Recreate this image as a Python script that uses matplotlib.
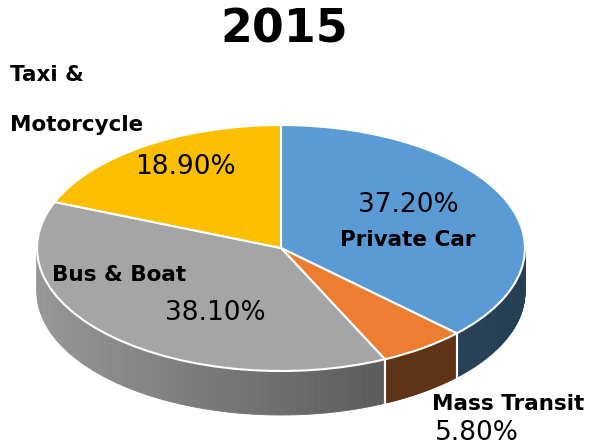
import numpy as np
import matplotlib.pyplot as plt
from matplotlib.patches import Wedge, Polygon
from matplotlib.transforms import Affine2D
from matplotlib.colors import to_rgb

# data
title = "2015"
labels = ["Private Car", "Mass Transit", "Bus & Boat", "Taxi &\n\nMotorcycle"]
shares = [37.2, 5.8, 38.1, 18.9]
top_colors = ["#5B9BD5", "#ED7D31", "#A5A5A5", "#FBBF00"]
side_colors = [("#253F55", "#253F55"), ("#5E3316", "#5E3316"),
               ("#979797", "#444444"), ("#7A5C00", "#7A5C00")]

W, H = 615, 447
cx, cy = 281, H - 248      # pie centre in pixel coords (y up)
a, b, depth = 244, 123, 44

fig = plt.figure(figsize=(6.15, 4.47), dpi=100)
ax = fig.add_axes([0, 0, 1, 1])
ax.set_xlim(0, W)
ax.set_ylim(0, H)
ax.axis("off")

# slice angles, clockwise from the top
frac = np.array(shares) / np.sum(shares)
ends = 90 - 360 * np.cumsum(frac)
starts = np.concatenate([[90], ends[:-1]])

# side walls (front half only: angles between -180 and 0)
for s, e, (c1, c2) in zip(starts, ends, side_colors):
    lo, hi = max(e, -180), min(s, 0)
    if lo >= hi:
        continue
    th = np.radians(np.linspace(lo, hi, 80))
    c1, c2 = np.array(to_rgb(c1)), np.array(to_rgb(c2))
    for i in range(len(th) - 1):
        x0, x1 = cx + a * np.cos(th[i]), cx + a * np.cos(th[i + 1])
        y0, y1 = cy + b * np.sin(th[i]), cy + b * np.sin(th[i + 1])
        t = ((x0 + x1) / 2 - (cx - a)) / (2 * a)
        col = c1 + (c2 - c1) * t
        ax.add_patch(Polygon([(x0, y0), (x1, y1), (x1, y1 - depth), (x0, y0 - depth)],
                             closed=True, fc=col, ec=col, lw=0.6))
    # white divider at the slice edges on the wall
    for ang in (lo, hi):
        if -180 < ang < 0:
            xe = cx + a * np.cos(np.radians(ang))
            ye = cy + b * np.sin(np.radians(ang))
            ax.plot([xe, xe], [ye, ye - depth], color="white", lw=1.5)

# top faces
tr = Affine2D().scale(a, b).translate(cx, cy) + ax.transData
for s, e, c in zip(starts, ends, top_colors):
    ax.add_patch(Wedge((0, 0), 1, e, s, fc=c, ec="white", lw=1.5, transform=tr))

# texts
ax.text(284, H - 30, title, ha="center", va="center", fontsize=33, fontweight="bold")
lab = dict(fontsize=15.5, fontweight="bold", family="DejaVu Sans")
pct = dict(fontsize=19)
ax.text(10, H - 75, "Taxi &", ha="left", va="center", **lab)
ax.text(10, H - 125, "Motorcycle", ha="left", va="center", **lab)
ax.text(185, H - 167, f"{shares[3]:.2f}%", ha="center", va="center", **pct)
ax.text(408, H - 205, f"{shares[0]:.2f}%", ha="center", va="center", **pct)
ax.text(408, H - 240, labels[0], ha="center", va="center", **lab)
ax.text(52, H - 275, labels[2], ha="left", va="center", **lab)
ax.text(215, H - 313, f"{shares[2]:.2f}%", ha="center", va="center", **pct)
ax.text(432, H - 404, labels[1], ha="left", va="center", **lab)
ax.text(435, H - 433, f"{shares[1]:.2f}%", ha="left", va="center", **pct)

fig.savefig("out.png", dpi=100)
